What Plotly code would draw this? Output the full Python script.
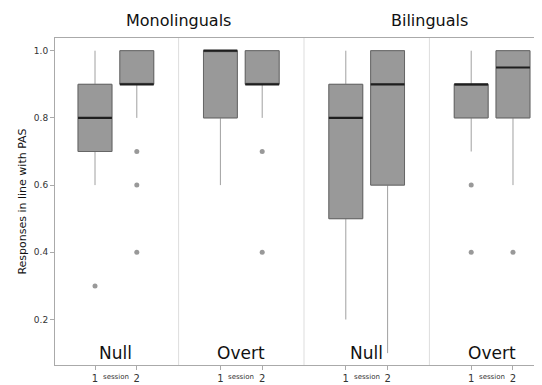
import plotly.graph_objects as go

# ---- data ----
groups = ["Monolinguals", "Bilinguals"]
panels = ["Null", "Overt", "Null", "Overt"]
session_labels = ["1", "2"]

# 8 boxes: (panel 0 s1, panel 0 s2, panel 1 s1, ...)
q1 = [0.7, 0.9, 0.8, 0.9, 0.5, 0.6, 0.8, 0.8]
median = [0.8, 0.9, 1.0, 0.9, 0.8, 0.9, 0.9, 0.95]
q3 = [0.9, 1.0, 1.0, 1.0, 0.9, 1.0, 0.9, 1.0]
lower = [0.6, 0.8, 0.6, 0.8, 0.2, 0.1, 0.7, 0.6]
upper = [1.0, 1.0, 1.0, 1.0, 1.0, 1.0, 1.0, 1.0]
outliers = [[0.3], [0.7, 0.6, 0.4], [], [0.7, 0.4], [], [], [0.6, 0.4], [0.4]]

# ---- positions ----
pos = []
for p in range(len(panels)):
    for s in range(1, 3):
        pos.append(3 * p + 0.5 + s)
panel_centers = [3 * p + 2 for p in range(len(panels))]
boundaries = [3 * p + 0.5 for p in range(1, len(panels))]

FONT = "DejaVu Sans"
BW = 0.81

fig = go.Figure()

# whiskers
fig.add_trace(go.Box(
    x=pos, q1=q1, median=median, q3=q3, lowerfence=lower, upperfence=upper,
    width=BW, orientation="v", fillcolor="rgba(0,0,0,0)",
    line=dict(color="#a0a0a0", width=1), whiskerwidth=0,
    boxpoints=False, showlegend=False, hoverinfo="skip"))
# boxes
fig.add_trace(go.Box(
    x=pos, q1=q1, median=median, q3=q3, lowerfence=q1, upperfence=q3,
    width=BW, orientation="v", fillcolor="#999999",
    line=dict(color="#666666", width=1), whiskerwidth=0,
    boxpoints=False, showlegend=False, hoverinfo="skip"))
# medians
fig.add_trace(go.Box(
    x=pos, q1=median, median=median, q3=median, lowerfence=median, upperfence=median,
    width=BW, orientation="v", fillcolor="rgba(0,0,0,0)",
    line=dict(color="#1e1e1e", width=2.2), whiskerwidth=0,
    boxpoints=False, showlegend=False, hoverinfo="skip"))

# outliers
ox, oy = [], []
for x, vals in zip(pos, outliers):
    for v in vals:
        ox.append(x)
        oy.append(v)
fig.add_trace(go.Scatter(x=ox, y=oy, mode="markers",
                         marker=dict(color="#999999", size=5),
                         showlegend=False, hoverinfo="skip"))

shapes = []
for b in boundaries:
    shapes.append(dict(type="line", xref="x", yref="paper", x0=b, x1=b, y0=0, y1=1,
                       line=dict(color="#dddddd", width=1), layer="below"))

annotations = []
for c, name in zip(panel_centers, panels):
    annotations.append(dict(x=c, y=0.037, xref="x", yref="paper", text=name,
                            showarrow=False, yanchor="middle",
                            font=dict(family=FONT, size=17, color="#111111")))
    annotations.append(dict(x=c, y=-0.036, xref="x", yref="paper", text="session",
                            showarrow=False, yanchor="middle",
                            font=dict(family=FONT, size=7, color="#333333")))
for g, name in enumerate(groups):
    annotations.append(dict(x=(panel_centers[2 * g] + panel_centers[2 * g + 1]) / 2,
                            y=1.055, xref="x", yref="paper", text=name,
                            showarrow=False, yanchor="middle",
                            font=dict(family=FONT, size=16, color="#111111")))

tickvals = pos
ticktext = session_labels * len(panels)

# the page body adds an 8px offset, so the figure is 8px smaller
fig.update_layout(
    width=534, height=377,
    margin=dict(l=47, r=1, t=30, b=20),
    paper_bgcolor="white", plot_bgcolor="white",
    font=dict(family=FONT, color="#333333"),
    shapes=shapes, annotations=annotations,
    boxmode="overlay",
    xaxis=dict(range=[0.543, 12.17], tickvals=tickvals, ticktext=ticktext,
               showgrid=False, zeroline=False, showline=True, mirror=True,
               linecolor="#aaaaaa", linewidth=1, ticks="outside", ticklen=4,
               tickcolor="#aaaaaa", tickfont=dict(size=10, color="#333333")),
    yaxis=dict(range=[0.0646, 1.0378], tickvals=[0.2, 0.4, 0.6, 0.8, 1.0],
               tickformat=".1f", showgrid=False, zeroline=False, showline=True,
               linecolor="#aaaaaa", linewidth=1, ticks="outside", ticklen=4,
               tickcolor="#aaaaaa", tickfont=dict(size=9, color="#333333"),
               automargin=False,
               title=dict(text="Responses in line with PAS", standoff=5,
                          font=dict(size=11, color="#111111"))),
)

fig.write_html("out.html")
